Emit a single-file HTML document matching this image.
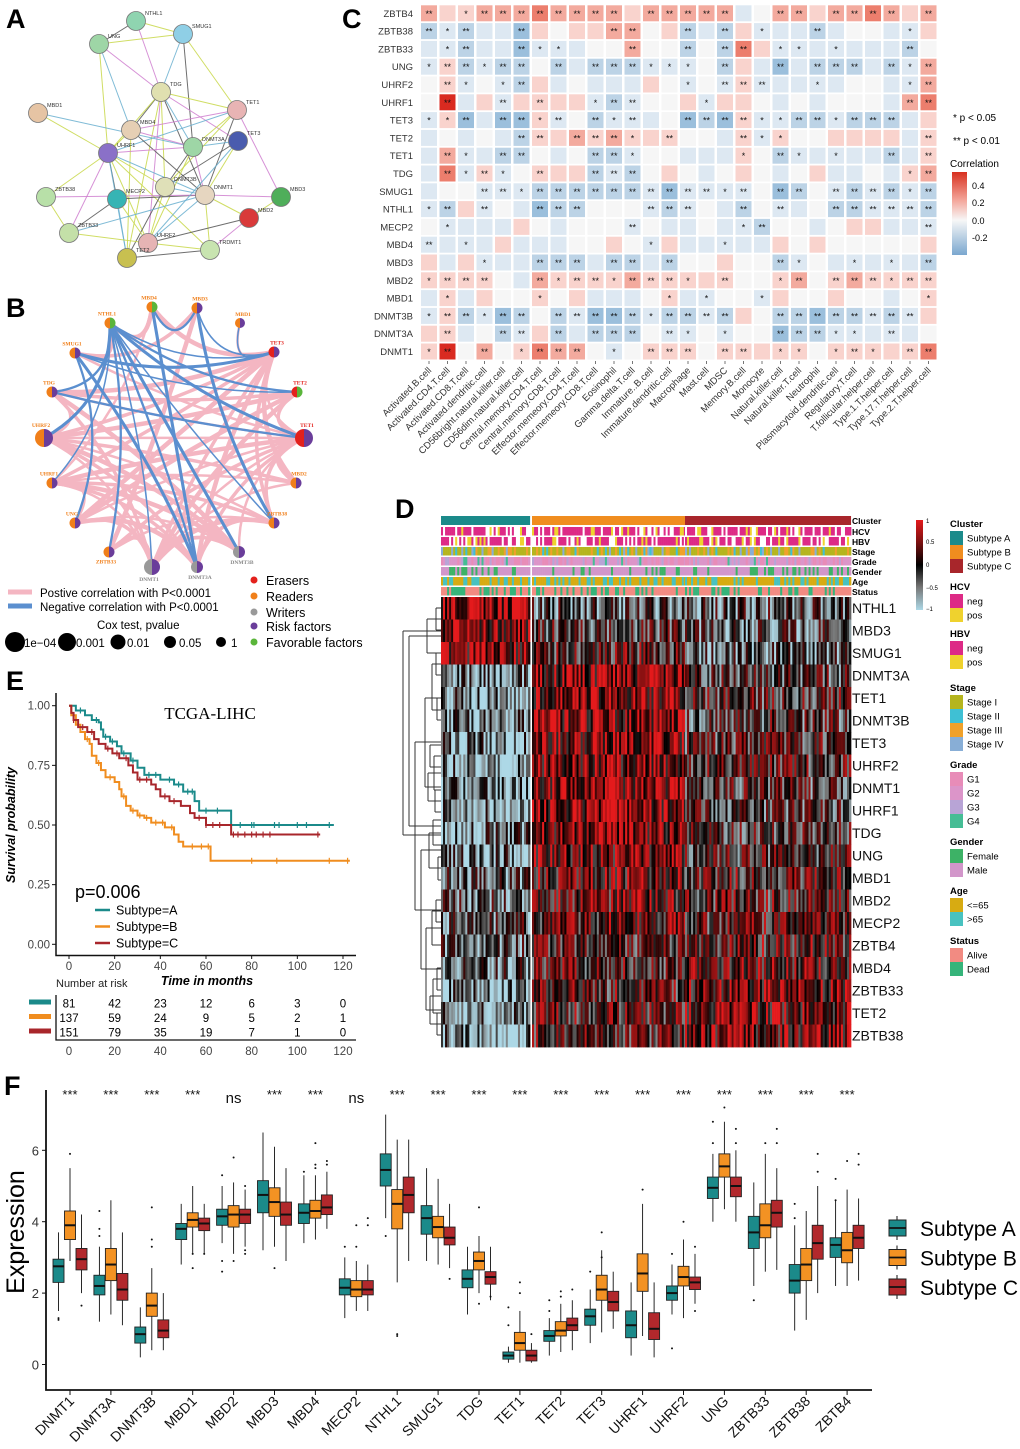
<!DOCTYPE html>
<html><head><meta charset="utf-8">
<style>
html,body{margin:0;padding:0;background:#fff;}
svg{display:block;font-family:"Liberation Sans",Arial,sans-serif;}
</style></head>
<body>
<svg id="fig" xmlns="http://www.w3.org/2000/svg" width="1020" height="1449" viewBox="0 0 1020 1449">
<rect x="0" y="0" width="1020" height="1449" fill="#fff"/>
<text x="6" y="28" font-size="27" font-weight="bold">A</text>
<text x="6" y="317" font-size="27" font-weight="bold">B</text>
<text x="342" y="28" font-size="27" font-weight="bold">C</text>
<text x="395" y="518" font-size="27" font-weight="bold">D</text>
<text x="6" y="690" font-size="27" font-weight="bold">E</text>
<text x="4" y="1095" font-size="27" font-weight="bold">F</text>

<!-- C legend -->
<text x="953" y="121" font-size="10">* p &lt; 0.05</text>
<text x="953" y="144" font-size="10">** p &lt; 0.01</text>
<text x="950" y="167" font-size="10">Correlation</text>
<defs>
<linearGradient id="cg" x1="0" y1="0" x2="0" y2="1">
<stop offset="0" stop-color="#d7301f"/><stop offset="0.35" stop-color="#f4a99e"/><stop offset="0.58" stop-color="#f7f7f7"/><stop offset="1" stop-color="#7aa7cf"/>
</linearGradient>
<linearGradient id="dg" x1="0" y1="0" x2="0" y2="1">
<stop offset="0" stop-color="#e41a1c"/><stop offset="0.25" stop-color="#7a1010"/><stop offset="0.5" stop-color="#000"/><stop offset="0.75" stop-color="#777"/><stop offset="1" stop-color="#add8e6"/>
</linearGradient>
</defs>
<rect x="952" y="172" width="15" height="83" fill="url(#cg)"/>
<text x="972" y="189" font-size="9">0.4</text>
<text x="972" y="206" font-size="9">0.2</text>
<text x="972" y="224" font-size="9">0.0</text>
<text x="972" y="241" font-size="9">-0.2</text>

<!-- D legend -->
<rect x="916" y="520" width="7" height="90" fill="url(#dg)"/>
<text x="926" y="523" font-size="6">1</text>
<text x="926" y="544" font-size="6">0.5</text>
<text x="926" y="567" font-size="6">0</text>
<text x="926" y="590" font-size="6">−0.5</text>
<text x="926" y="611" font-size="6">−1</text>
<g id="dlegend"></g>

<!-- B legend -->
<line x1="8" y1="592" x2="32" y2="592" stroke="#f4b6c2" stroke-width="5"/>
<text x="40" y="597" font-size="11.5">Postive correlation with P&lt;0.0001</text>
<line x1="8" y1="606" x2="32" y2="606" stroke="#5b8fcf" stroke-width="5"/>
<text x="40" y="611" font-size="11.5">Negative correlation with P&lt;0.0001</text>
<text x="97" y="629" font-size="11.5">Cox test, pvalue</text>
<circle cx="15" cy="642" r="10" fill="#000"/>
<text x="24" y="647" font-size="11.5">1e−04</text>
<circle cx="67" cy="642" r="9" fill="#000"/>
<text x="76" y="647" font-size="11.5">0.001</text>
<circle cx="118" cy="642" r="7.5" fill="#000"/>
<text x="127" y="647" font-size="11.5">0.01</text>
<circle cx="170" cy="642" r="6" fill="#000"/>
<text x="179" y="647" font-size="11.5">0.05</text>
<circle cx="221" cy="642" r="5" fill="#000"/>
<text x="231" y="647" font-size="11.5">1</text>
<circle cx="254" cy="580" r="3.5" fill="#e3211c"/>
<text x="266" y="585" font-size="12.5">Erasers</text>
<circle cx="254" cy="596" r="3.5" fill="#f07f1a"/>
<text x="266" y="601" font-size="12.5">Readers</text>
<circle cx="254" cy="612" r="3.5" fill="#999"/>
<text x="266" y="617" font-size="12.5">Writers</text>
<circle cx="254" cy="626" r="3.5" fill="#6a3d9a"/>
<text x="266" y="631" font-size="12.5">Risk factors</text>
<circle cx="254" cy="642" r="3.5" fill="#5ab53a"/>
<text x="266" y="647" font-size="12.5">Favorable factors</text>

<!-- E static -->
<text x="210" y="719" font-size="17" font-family="Liberation Serif, serif" text-anchor="middle">TCGA-LIHC</text>
<text x="15" y="825" font-size="12.5" font-weight="bold" font-style="italic" text-anchor="middle" transform="rotate(-90 15 825)">Survival probability</text>
<text x="207" y="985" font-size="12.5" font-weight="bold" font-style="italic" text-anchor="middle">Time in months</text>
<text x="56" y="987" font-size="11" fill="#222">Number at risk</text>
<text x="75" y="898" font-size="18">p=0.006</text>

<!-- F static -->
<text x="24" y="1232" font-size="25" text-anchor="middle" transform="rotate(-90 24 1232)">Expression</text>
</svg>
<script>
const NS='http://www.w3.org/2000/svg';
const svg=document.getElementById('fig');
function mk(tag,attrs,parent){const e=document.createElementNS(NS,tag);for(const k in attrs)e.setAttribute(k,attrs[k]);(parent||svg).appendChild(e);return e;}
function tx(x,y,s,attrs,parent){const e=mk('text',Object.assign({x:x,y:y},attrs||{}),parent);e.textContent=s;return e;}

/* ================= Panel A: STRING network ================= */
const aNames=['NTHL1','SMUG1','UNG','TDG','TET1','MBD1','MBD4','TET3','UHRF1','DNMT3A','DNMT3B','DNMT1','ZBTB38','MECP2','MBD3','MBD2','ZBTB33','UHRF2','TRDMT1','TET2'];
const aX=[136,183,99,161,237,38,131,238,108,193,165,205,46,117,281,249,69,148,210,127];
const aY=[21,34,44,92,110,113,130,141,153,147,187,195,197,199,197,218,233,243,250,258];
const aCol=['#8fd4b0','#8fcfe6','#9ed6a6','#e0e0b0','#e8b4b4','#e6c4a4','#e6cfb4','#4a5cae','#8a70c8','#9ed6a6','#dfe0b8','#e6d6c0','#b8e0a8','#36b4b4','#4fae5a','#d93a3a','#c4e0a8','#e6b4b4','#c8e4b0','#c8c050'];
const aEdges=[[0,1],[0,2],[0,3],[1,2],[1,3],[1,4],[1,9],[2,3],[2,8],[2,6],[3,4],[3,6],[3,7],[3,8],[3,9],[3,10],[3,11],[3,17],[3,19],[4,8],[4,9],[4,11],[4,6],[5,8],[5,9],[6,8],[6,11],[6,9],[6,19],[7,9],[7,11],[7,10],[8,9],[8,10],[8,11],[8,12],[8,13],[8,16],[8,17],[8,19],[8,18],[9,10],[9,11],[9,17],[10,11],[10,17],[10,19],[11,14],[11,15],[11,17],[11,18],[11,13],[12,11],[13,17],[13,19],[14,15],[15,17],[15,18],[16,17],[16,11],[17,18],[19,18],[4,14],[4,10],[7,17],[12,16],[13,16]];
const aLineCols=['#c8d84a','#555','#d080d0','#c8d84a','#6ab0d0'];
aEdges.forEach((e,i)=>{
  const l=mk('line',{x1:aX[e[0]],y1:aY[e[0]],x2:aX[e[1]],y2:aY[e[1]],stroke:aLineCols[i%5],'stroke-width':1,opacity:0.85});
  
  
});
aNames.forEach((n,i)=>{
  const c=mk('circle',{cx:aX[i],cy:aY[i],r:9.5,fill:aCol[i],stroke:'#777','stroke-width':0.8});
  
  
  const t=tx(aX[i]+9,aY[i]-6,n,{'font-size':5.5,fill:'#333'});
  
  
});

/* ================= Panel B: circular network ================= */
const bNames=['MBD4','MBD3','NTHL1','MBD1','SMUG1','TET3','TDG','TET2','UHRF2','TET1','UHRF1','MBD2','UNG','ZBTB38','ZBTB33','DNMT3B','DNMT1','DNMT3A'];
const bX=[152,197,110,240,75,274,52,297,44,304,52,296,75,274,109,239,152,197];
const bY=[307,308,323,323,353,352,392,392,438,438,483,483,523,523,552,552,567,567];
const bR=[5.5,5.5,5.5,5,5.5,5.5,5.5,5.5,9,9,5.5,5.5,5.5,5.5,5.5,6,8,6];
const bLeft=['#f07f1a','#f07f1a','#f07f1a','#f07f1a','#f07f1a','#e3211c','#f07f1a','#e3211c','#f07f1a','#e3211c','#f07f1a','#f07f1a','#f07f1a','#f07f1a','#f07f1a','#999','#999','#999'];
const bRight=['#5ab53a','#6a3d9a','#5ab53a','#6a3d9a','#6a3d9a','#6a3d9a','#6a3d9a','#5ab53a','#6a3d9a','#6a3d9a','#6a3d9a','#6a3d9a','#6a3d9a','#6a3d9a','#6a3d9a','#6a3d9a','#6a3d9a','#6a3d9a'];
const bPos=[[8,16],[8,17],[8,15],[8,9],[8,5],[8,7],[8,13],[8,11],[6,5],[6,9],[6,16],[6,15],[6,8],[10,5],[10,9],[10,16],[10,17],[10,15],[10,11],[10,13],[12,5],[12,9],[12,16],[12,17],[12,15],[14,9],[14,16],[16,9],[16,5],[16,7],[16,17],[16,15],[16,13],[16,11],[17,9],[17,5],[15,9],[5,13],[5,11],[5,9],[7,9],[0,5],[3,5],[2,4],[0,2],[0,10],[1,4],[1,14],[10,12],[13,9],[11,9],[4,9],[6,7],[12,7],[14,13],[17,13],[5,12]];
const bNeg=[[2,5],[2,7],[2,9],[2,16],[2,17],[2,15],[2,13],[2,6],[2,8],[2,10],[2,14],[4,5],[4,7],[4,12],[1,13],[1,5],[0,1],[0,17],[3,5],[6,9],[4,17]];
const bCx=174,bCy=437;
function bEdge(p,col,w,nm){
  const x1=bX[p[0]],y1=bY[p[0]],x2=bX[p[1]],y2=bY[p[1]];
  const mx=(x1+x2)/2,my=(y1+y2)/2;
  const qx=mx+(bCx-mx)*0.35,qy=my+(bCy-my)*0.35;
  const e=mk('path',{d:`M${x1},${y1} Q${qx},${qy} ${x2},${y2}`,fill:'none',stroke:col,'stroke-width':w,'stroke-linecap':'round'});
  
  
}
bPos.forEach((p,i)=>bEdge(p,'#f4b6c2',2.5+(i%3),'b-positive-edge'));
bNeg.forEach((p,i)=>bEdge(p,'#5b8fcf',1.5+(i%3)*0.8,'b-negative-edge'));
bNames.forEach((n,i)=>{
  const r=bR[i],x=bX[i],y=bY[i];
  const l=mk('path',{d:`M${x},${y-r} A${r},${r} 0 0 0 ${x},${y+r} Z`,fill:bLeft[i]});
  
  
  const rr=mk('path',{d:`M${x},${y-r} A${r},${r} 0 0 1 ${x},${y+r} Z`,fill:bRight[i]});
  
  
  const below=y>540;
  const col=bLeft[i]=='#999'?'#888':(bLeft[i]=='#e3211c'?'#e3211c':'#f07f1a');
  const t=tx(x+(x<bCx?-3:3),below?y+r+6:y-r-2,n,{'font-size':5.5,fill:col,'font-family':'Liberation Serif, serif','font-weight':'bold','text-anchor':'middle'});
  
  
});

/* ================= Panel C: correlation heatmap ================= */
const cRows=['ZBTB4','ZBTB38','ZBTB33','UNG','UHRF2','UHRF1','TET3','TET2','TET1','TDG','SMUG1','NTHL1','MECP2','MBD4','MBD3','MBD2','MBD1','DNMT3B','DNMT3A','DNMT1'];
const cCols=['Activated.B.cell','Activated.CD4.T.cell','Activated.CD8.T.cell','Activated.dendritic.cell','CD56bright.natural.killer.cell','CD56dim.natural.killer.cell','Central.memory.CD4.T.cell','Central.memory.CD8.T.cell','Effector.memeory.CD4.T.cell','Effector.memeory.CD8.T.cell','Eosinophil','Gamma.delta.T.cell','Immature..B.cell','Immature.dendritic.cell','Macrophage','Mast.cell','MDSC','Memory.B.cell','Monocyte','Natural.killer.cell','Natural.killer.T.cell','Neutrophil','Plasmacytoid.dendritic.cell','Regulatory.T.cell','T.follicular.helper.cell','Type.1.T.helper.cell','Type.17.T.helper.cell','Type.2.T.helper.cell'];
const cLevels=['baabbbcbbbbabbbbbw0bbabbcbab','xwxwwya0aabb0axwxawwwxw00wwa','wwxwwywww00b00x0xcawwwwwwwx0','waxwxx0xwxxxwww0xawywxxxwxwb','0aw0wxaw0wwwa0w0wawwwww00wwb','0dwawaaaawxw00awaa0w0w000wbc','waywyyaw0xwww0yxyawwxxwxxxwa','w0w0wxaababaaa00wawa00aaaawa','wbwwxx0w0xxw00wwwa0xwwwwwxwa','wcwaw0aaaxwx0a0w0a0w0aww0wab','w00wwwxxxxxxwywwww0yx0wxwxwx','wxaw0wyxx000wxw0wx0ww0xxwwwx','0wwwwa0w000w0ww0wwx00w0aawww','wwwwawww00a0wawwwwwa0a00000a','awawwwxxxwxxwx00a00xw0wwwwwx','aaaa0wbaaaabaaaaa00ab0abaaaa','wawa00a0awww0aww00wa00a00w0a','waxwyx0xwyyxwxxwxa0xxyxxwxwa','aaw0xwaxwxxx0ww0w00yxxwwwww0','ad0b0acbb0w0aaa0aaaaa0aaaaac'];
const cStars=['2012222222202222200220222202','2120020000220020201002000010','0120021100020020220110100020','1221220202221110200202220212','0210120000000010222001000012','0200202001220001000000000022','1120221202120022221122122200','0000022022210200021100000002','0210220002210000010210100202','0212102002220000000000000012','0002212222222222120220222212','1202002220002220020200222222','0100000000020000012000000002','2010000000001000100000000000','0001002220220200000210010102','1222002122122210200120222122','0100001000000101001000000001','1221220222221222200222222220','0200220202220210100222110200','1202012220102220220110121022'];
const cColor={'0':'#f6f6f6','a':'#f9d3cd','b':'#f3aa9e','c':'#ec7e6d','d':'#d92a20','w':'#dde8f2','x':'#bcd3e6','y':'#9bbfdc','z':'#74a2cc'};
const cX0=429,cDX=18.5,cY0=13.3,cDY=17.8,cS=16;
function cxAt(j){return cX0+j*cDX;}
function cyAt(i){return cY0+i*cDY;}
cRows.forEach((rn,i)=>{
  const t=tx(413,cyAt(i)+3.5,rn,{'font-size':9.5,'text-anchor':'end',fill:'#333'});
  
  
  for(let j=0;j<cCols.length;j++){
    const code=cLevels[i][j];
    const r=mk('rect',{x:cxAt(j)-cS/2,y:cyAt(i)-cS/2,width:cS,height:cS,fill:cColor[code]});
    
    
    const s=+cStars[i][j];
    if(s>0){
      const st=tx(cxAt(j),cyAt(i)+3.5,s==2?'**':'*',{'font-size':9,'text-anchor':'middle',fill:'#111'});
      
      
    }
  }
});
cCols.forEach((cn,j)=>{
  const tk=mk('line',{x1:cxAt(j),y1:361,x2:cxAt(j),y2:364,stroke:'#555','stroke-width':0.8});
  
  
  const t=tx(cxAt(j)+3,371,cn,{'font-size':9.5,'text-anchor':'end',fill:'#333',transform:`rotate(-45 ${cxAt(j)+3} 371)`});
  
  
});

/* ================= Panel D: expression heatmap ================= */
const dGenes=['NTHL1','MBD3','SMUG1','DNMT3A','TET1','DNMT3B','TET3','UHRF2','DNMT1','UHRF1','TDG','UNG','MBD1','MBD2','MECP2','ZBTB4','MBD4','ZBTB33','TET2','ZBTB38'];
const dMeanA=[0.7,0.6,0.5,-0.6,-0.6,-0.6,-0.6,-0.6,-0.6,-0.6,-0.5,-0.5,-0.4,-0.3,-0.3,-0.3,-0.4,-0.6,-0.6,-0.6];
const dMeanB=[-0.3,-0.1,0.1,0.55,0.5,0.5,0.5,0.5,0.6,0.6,0.5,0.4,0.3,0.3,0.2,0.1,0.1,0.1,0.1,0.1];
const dMeanC=[-0.3,-0.3,-0.4,-0.1,0,-0.1,0,0,-0.1,-0.1,-0.1,0,0.1,0.1,0.1,0.2,0.3,0.4,0.4,0.4];
const dGroupStart=[441,532,685], dGroupCols=[44,76,82], dCW=2.025;
const dY0=597, dRH=22.5;
function texture(i,j){const h=Math.sin(i*127.1+j*311.7)*43758.5453;return (h-Math.floor(h))-0.5;}
function dColor(v){
  v=Math.max(-1,Math.min(1,v));
  let r,g,b;
  if(v>=0){ if(v<0.5){const t=v/0.5;r=122*t;g=16*t;b=16*t;} else {const t=(v-0.5)/0.5;r=122+(228-122)*t;g=16+(26-16)*t;b=16+(28-16)*t;} }
  else { const u=-v; if(u<0.5){const t=u/0.5;r=g=b=119*t;} else {const t=(u-0.5)/0.5;r=119+(173-119)*t;g=119+(216-119)*t;b=119+(230-119)*t;} }
  return `rgb(${r|0},${g|0},${b|0})`;
}
const dMeans=[dMeanA,dMeanB,dMeanC];
dGenes.forEach((gname,i)=>{
  for(let gi=0;gi<3;gi++){
    for(let j=0;j<dGroupCols[gi];j++){
      const v=dMeans[gi][i]+texture(i,j+gi*120)*1.6;
      const r=mk('rect',{x:dGroupStart[gi]+j*dCW,y:dY0+i*dRH,width:dCW+0.3,height:dRH+0.4,fill:dColor(v)});
      
      
    }
  }
  const t=tx(852,dY0+i*dRH+16,gname,{'font-size':14,fill:'#111'});
  
  
});
const dAnnNames=['Cluster','HCV','HBV','Stage','Grade','Gender','Age','Status'];
const dAnnY=[516,527,537,547,557,567,577,587];
const dAnnPal=[null,['#dd2a86','#efd22e','#fff'],['#dd2a86','#efd22e','#fff'],['#b5b51e','#3fc0d4','#f0a12a','#88aed6'],['#e88cb8','#dc95c9','#b8a4d6','#45bd95'],['#3db266','#d296ca'],['#d7ab12','#48c2c0'],['#f28b82','#35b47a']];
const dAnnProb=[null,[0.55,0.15,0.3],[0.55,0.15,0.3],[0.55,0.1,0.25,0.1],[0.35,0.45,0.15,0.05],[0.25,0.75],[0.65,0.35],[0.65,0.35]];
const dClusterCol=['#1b8a8a','#f08d1f','#a8262b'];
dAnnNames.forEach((an,k)=>{
  for(let gi=0;gi<3;gi++){
    const total=dGroupCols[gi]*dCW;
    if(k==0){
      const r=mk('rect',{x:dGroupStart[gi],y:dAnnY[k],width:total,height:9,fill:dClusterCol[gi]});
      
      
      continue;
    }
    const n=dGroupCols[gi];
    for(let j=0;j<n;j++){
      let u=texture(k*7+3,j+gi*100)+0.5,acc=0,c=0;
      const p=dAnnProb[k];
      for(c=0;c<p.length;c++){acc+=p[c];if(u<acc)break;}
      c=Math.min(c,p.length-1);
      const r=mk('rect',{x:dGroupStart[gi]+j*total/n,y:dAnnY[k],width:total/n+0.3,height:8.5,fill:dAnnPal[k][c]});
      
      
    }
  }
  const t=tx(852,dAnnY[k]+8,an,{'font-size':8.5,'font-weight':'bold'});
  
  
});
const dendro=[[436,608,436,630],[427,619,427,653],[436,653,436,675],[432,664,432,710],[437,698,437,720],[430,745,430,767],[434,756,434,790],[435,790,435,812],[428,773,428,801],[425,698,425,787],[433,820,433,845],[438,857,438,880],[429,833,429,868],[436,900,436,922],[432,911,432,945],[437,968,437,990],[433,979,433,1013],[437,1013,437,1035],[430,996,430,1024],[426,928,426,1010],[421,850,421,969],[415,742,415,910],[409,636,409,826],[403,631,403,835]];
dendro.forEach(s=>{
  const l=mk('line',{x1:s[0],y1:s[1],x2:s[2],y2:s[3],stroke:'#333','stroke-width':1});
  
  
  const h1=mk('line',{x1:s[0],y1:s[1],x2:441,y2:s[1],stroke:'#333','stroke-width':1});
  
  
  const h2=mk('line',{x1:s[0],y1:s[3],x2:441,y2:s[3],stroke:'#333','stroke-width':1});
  
  
});
const lg=document.getElementById('dlegend');
const dLegTitles=['Cluster','HCV','HBV','Stage','Grade','Gender','Age','Status'];
const dLegTitleY=[527,590,637,691,768,845,894,944];
const dLegItems=[['Subtype A','Subtype B','Subtype C'],['neg','pos'],['neg','pos'],['Stage I','Stage II','Stage III','Stage IV'],['G1','G2','G3','G4'],['Female','Male'],['<=65','>65'],['Alive','Dead']];
const dLegCols=[dClusterCol,['#dd2a86','#efd22e'],['#dd2a86','#efd22e'],dAnnPal[3],dAnnPal[4],dAnnPal[5],dAnnPal[6],dAnnPal[7]];
dLegTitles.forEach((tt,k)=>{
  const t=tx(950,dLegTitleY[k],tt,{'font-size':9.5,'font-weight':'bold'},lg);
  
  
  dLegItems[k].forEach((it,m)=>{
    const y=dLegTitleY[k]+4+m*14;
    const r=mk('rect',{x:950,y:y,width:13,height:14,fill:dLegCols[k][m]},lg);
    
    
    const t2=tx(967,y+10.5,it,{'font-size':9.5},lg);
    
    
  });
});

/* ================= Panel E: Kaplan-Meier ================= */
const eTimesA=[0,3,7,10,13,14,15,18,21,23,27,30,33,40,46,50,55,57,71,116];
const eSurvA=[1,0.98,0.96,0.94,0.93,0.90,0.87,0.85,0.83,0.80,0.77,0.74,0.71,0.69,0.67,0.64,0.60,0.56,0.50,0.50];
const eTimesB=[0,1,3,5,7,9,10,12,14,16,20,22,23,25,27,30,33,36,42,46,48,50,62,123];
const eSurvB=[1,0.96,0.92,0.89,0.86,0.84,0.79,0.76,0.73,0.70,0.68,0.65,0.62,0.58,0.56,0.54,0.53,0.51,0.49,0.46,0.43,0.41,0.35,0.35];
const eTimesC=[0,1,2,4,8,11,13,16,19,22,26,28,30,36,38,40,44,49,53,55,60,71,110];
const eSurvC=[1,0.97,0.94,0.91,0.89,0.86,0.84,0.82,0.80,0.78,0.75,0.72,0.69,0.67,0.65,0.62,0.60,0.58,0.55,0.53,0.50,0.46,0.46];
const eCensorA=[5,12,16,19,24,28,35,38,44,48,52,54,60,65,75,80,81,90,92,100,104,114];
const eCensorB=[4,8,13,18,24,28,31,34,38,41,45,54,58,61,80,91,114,122];
const eCensorC=[2,6,10,17,21,25,31,34,42,46,57,60,63,66,72,74,77,80,82,85,88,109];
const eRisk=[[81,42,23,12,6,3,0],[137,59,24,9,5,2,1],[151,79,35,19,7,1,0]];
const eXTicks=[0,20,40,60,80,100,120];
const eYTicks=[0,0.25,0.5,0.75,1];
const eYTickLabels=['0.00','0.25','0.50','0.75','1.00'];
const eCols=['#1b8a8a','#f08d1f','#a8262b'];
function ex(t){return 69+t*(343-69)/120;}
function ey(s){return 944.3-s*(944.3-705.7);}
const eAx=mk('path',{d:'M56,693 L56,955.5 L356,955.5',fill:'none',stroke:'#111','stroke-width':1.5});


eYTicks.forEach((v,k)=>{
  const l=mk('line',{x1:52,y1:ey(v),x2:56,y2:ey(v),stroke:'#111'});
  
  
  const t=tx(50,ey(v)+4,eYTickLabels[k],{'font-size':11.5,'text-anchor':'end',fill:'#444'});
  
  
});
eXTicks.forEach(v=>{
  const l=mk('line',{x1:ex(v),y1:955.5,x2:ex(v),y2:959,stroke:'#111'});
  
  
  const t=tx(ex(v),970,String(v),{'font-size':11.5,'text-anchor':'middle',fill:'#444'});
  
  
});
function stepAt(T,S,t){let s=S[0];for(let i=0;i<T.length;i++){if(T[i]<=t)s=S[i];}return s;}
[[eTimesA,eSurvA,eCensorA],[eTimesB,eSurvB,eCensorB],[eTimesC,eSurvC,eCensorC]].forEach((d,k)=>{
  const T=d[0],S=d[1];
  let p=`M${ex(T[0])},${ey(S[0])}`;
  for(let i=1;i<T.length;i++){p+=` H${ex(T[i])} V${ey(S[i])}`;}
  const path=mk('path',{d:p,fill:'none',stroke:eCols[k],'stroke-width':2});
  
  
  d[2].forEach(ct=>{
    if(ct>T[T.length-1])return;
    const yy=ey(stepAt(T,S,ct));
    const c=mk('line',{x1:ex(ct),y1:yy-3,x2:ex(ct),y2:yy+3,stroke:eCols[k],'stroke-width':1.2});
    
    
  });
  const ly=910+k*16.5;
  const ll=mk('line',{x1:95,y1:ly,x2:110,y2:ly,stroke:eCols[k],'stroke-width':2.5});
  
  
  const lt=tx(116,ly+4.5,'Subtype='+'ABC'[k],{'font-size':12.5});
  
  
  const rb=mk('rect',{x:29,y:999.5+k*14.5,width:22,height:5,fill:eCols[k]});
  
  
  eRisk[k].forEach((n,m)=>{
    const t=tx(ex(eXTicks[m]),1007.5+k*14.5,String(n),{'font-size':11.5,'text-anchor':'middle'});
    
    
  });
});
const eRAx=mk('path',{d:'M56,995 L56,1040 L356,1040',fill:'none',stroke:'#111','stroke-width':1.3});


eXTicks.forEach(v=>{
  const t=tx(ex(v),1055,String(v),{'font-size':11.5,'text-anchor':'middle',fill:'#444'});
  
  
});

/* ================= Panel F: boxplots ================= */
const fGenes=['DNMT1','DNMT3A','DNMT3B','MBD1','MBD2','MBD3','MBD4','MECP2','NTHL1','SMUG1','TDG','TET1','TET2','TET3','UHRF1','UHRF2','UNG','ZBTB33','ZBTB38','ZBTB4'];
const fSig=['***','***','***','***','ns','***','***','ns','***','***','***','***','***','***','***','***','***','***','***','***'];
const fMed=[[2.75,3.9,2.95],[2.2,2.8,2.1],[0.85,1.65,0.95],[3.8,4.05,3.95],[4.15,4.2,4.2],[4.75,4.55,4.2],[4.25,4.3,4.4],[2.15,2.1,2.1],[5.45,4.5,4.75],[4.1,3.85,3.55],[2.4,2.9,2.45],[0.25,0.6,0.25],[0.8,0.95,1.1],[1.35,2.1,1.75],[1.1,2.55,1.0],[2.0,2.45,2.3],[4.95,5.55,5.0],[3.7,3.9,4.25],[2.35,2.8,3.4],[3.35,3.2,3.55]];
const fQ1=[[2.3,3.5,2.65],[1.95,2.35,1.8],[0.6,1.35,0.75],[3.5,3.85,3.75],[3.9,3.85,3.95],[4.25,4.15,3.9],[3.95,4.1,4.2],[1.95,1.9,1.95],[5.0,3.8,4.25],[3.65,3.55,3.35],[2.15,2.65,2.25],[0.15,0.4,0.1],[0.65,0.8,0.95],[1.1,1.8,1.5],[0.75,2.05,0.7],[1.8,2.2,2.1],[4.65,5.25,4.7],[3.25,3.55,3.85],[2.0,2.35,2.95],[3.0,2.85,3.25]];
const fQ3=[[2.95,4.3,3.25],[2.5,3.25,2.55],[1.05,2.0,1.25],[3.95,4.25,4.1],[4.35,4.45,4.35],[5.15,4.95,4.55],[4.5,4.6,4.75],[2.4,2.35,2.35],[5.9,4.9,5.25],[4.45,4.15,3.85],[2.65,3.15,2.6],[0.35,0.9,0.4],[0.95,1.2,1.3],[1.55,2.5,2.05],[1.5,3.1,1.45],[2.2,2.75,2.45],[5.25,5.9,5.25],[4.15,4.5,4.6],[2.8,3.25,3.9],[3.55,3.7,3.9]];
const fLo=[[1.5,2.9,2.0],[1.2,1.4,1.1],[0.2,0.4,0.4],[2.8,3.1,3.1],[3.4,3.1,3.3],[3.2,3.3,2.9],[3.4,3.5,3.8],[1.3,1.5,1.5],[4.1,2.3,2.9],[2.9,2.8,2.7],[1.4,2.0,1.8],[0.05,0.05,0.05],[0.25,0.35,0.4],[0.6,0.9,1.0],[0.25,0.8,0.2],[1.4,1.3,1.7],[4.0,4.35,4.0],[2.2,2.6,2.65],[0.95,1.25,2.0],[2.2,2.2,2.35]];
const fHi=[[3.7,5.5,4.2],[3.3,4.6,3.7],[1.6,2.7,2.0],[4.5,5.0,4.5],[5.0,5.1,4.9],[6.5,6.1,5.5],[5.3,5.3,5.4],[3.0,2.9,2.8],[7.0,6.3,6.3],[5.5,5.2,4.5],[3.3,3.6,3.3],[0.5,1.5,0.6],[1.3,1.7,1.8],[2.1,3.2,2.6],[2.3,4.5,2.3],[2.8,3.5,3.1],[5.9,6.8,6.0],[5.1,5.9,5.5],[3.9,4.3,5.0],[4.6,4.9,4.65]];
const fOut=[[[1.25,1.3],[5.9],[1.65]],[[3.6,3.8,4.3],[],[]],[[],[3.3,3.5,4.4],[]],[[],[2.7,3.1],[3.1]],[[2.6,2.9,5.3],[2.9,5.8],[3.1,3.2,5.0]],[[],[2.7],[]],[[5.4],[5.5,5.6,6.2],[5.6,5.7]],[[3.3],[3.9,3.3],[3.9,4.1]],[[3.6],[0.8,0.85],[]],[[],[],[2.4]],[[],[1.7,4.4],[1.9]],[[1.1,1.6],[2.0,2.3],[0.85]],[[1.5,1.8],[1.9,2.05],[2.1]],[[2.6],[3.7,3.0],[]],[[],[4.9],[]],[[0.45,3.1],[4.0],[1.5,3.3]],[[6.2,6.8],[7.2],[6.2,6.6]],[[1.8],[6.2],[6.2,6.6]],[[4.5,4.1],[],[5.4,5.9]],[[4.6,5.2],[5.7],[5.6,5.9]]];
const fYTicks=[0,2,4,6];
const fCols=['#1b8a8a','#f39223','#b2282c'];
function fy(v){return 1364.5-v*35.7;}
function fx(i){return 70+i*40.9;}
const fAx=mk('path',{d:'M46,1090 L46,1390 L872,1390',fill:'none',stroke:'#111','stroke-width':1.8});


fYTicks.forEach(v=>{
  const l=mk('line',{x1:42,y1:fy(v),x2:46,y2:fy(v),stroke:'#111'});
  
  
  const t=tx(39,fy(v)+5,String(v),{'font-size':13,'text-anchor':'end',fill:'#333'});
  
  
});
fGenes.forEach((g,i)=>{
  const cx=fx(i);
  const tk=mk('line',{x1:cx,y1:1390,x2:cx,y2:1395,stroke:'#111'});
  
  
  const t=tx(cx+5,1402,g,{'font-size':14,'text-anchor':'end',fill:'#111',transform:`rotate(-45 ${cx+5} 1402)`});
  
  
  const sg=tx(cx,fSig[i]=='ns'?1103:1099,fSig[i],{'font-size':fSig[i]=='ns'?15:13,'text-anchor':'middle',fill:'#111'});
  
  
  for(let k=0;k<3;k++){
    const bx=cx+(k-1)*11.5;
    const w=mk('line',{x1:bx,y1:fy(fHi[i][k]),x2:bx,y2:fy(fLo[i][k]),stroke:'#111','stroke-width':0.9});
    
    
    const r=mk('rect',{x:bx-5.5,y:fy(fQ3[i][k]),width:11,height:fy(fQ1[i][k])-fy(fQ3[i][k]),fill:fCols[k],stroke:'#222','stroke-width':0.9});
    
    
    const m=mk('line',{x1:bx-5.5,y1:fy(fMed[i][k]),x2:bx+5.5,y2:fy(fMed[i][k]),stroke:'#111','stroke-width':2});
    
    
    fOut[i][k].forEach(o=>{
      const d=mk('circle',{cx:bx,cy:fy(o),r:1,fill:'#111'});
      
      
    });
  }
});
['Subtype A','Subtype B','Subtype C'].forEach((s,k)=>{
  const y=1228+k*29.5;
  const l=mk('line',{x1:897,y1:y-12,x2:897,y2:y+12,stroke:'#111','stroke-width':1});
  
  
  const r=mk('rect',{x:889,y:y-8,width:17,height:16,fill:fCols[k],stroke:'#222','stroke-width':1});
  
  
  const m=mk('line',{x1:889,y1:y,x2:906,y2:y,stroke:'#111','stroke-width':1.8});
  
  
  const t=tx(920,y+8,s,{'font-size':21});
  
  
});
</script>
</body></html>
